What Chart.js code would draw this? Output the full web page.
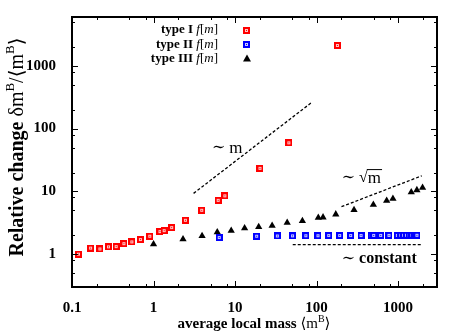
<!DOCTYPE html>
<html>
<head>
<meta charset="utf-8">
<script src="https://cdn.jsdelivr.net/npm/chart.js@4.4.0/dist/chart.umd.min.js"></script>
<style>
  html, body { margin: 0; padding: 0; background: #fff; }
  #wrap { width: 463px; height: 334px; position: relative; }
</style>
</head>
<body>
<div id="wrap"><canvas id="chart"></canvas></div>
<script>
// --- data (log-log) ---
const typeOneX = [0.12, 0.169, 0.22, 0.28, 0.348, 0.433, 0.542, 0.69, 0.90, 1.2, 1.35, 1.67, 2.46, 3.9, 6.2, 7.5, 20.2, 45.7, 180];
const typeOneY = [1.0, 1.25, 1.21, 1.31, 1.32, 1.47, 1.57, 1.71, 1.93, 2.29, 2.37, 2.65, 3.47, 5.0, 7.2, 8.5, 23.3, 59.4, 2110];

const typeTwoX = [6.4, 18.4, 33, 50.7, 73.8, 104, 141, 192, 262, 351, 470, 501, 611, 773, 979, 1080, 1170, 1270, 1370, 1480, 1600, 1700];
const typeTwoY = [1.84, 1.93, 1.95, 1.96, 1.97, 1.97, 1.98, 1.98, 1.98, 1.98, 1.99, 1.99, 1.99, 1.99, 1.99, 2.0, 2.0, 2.0, 2.0, 2.0, 2.0, 2.0];

const typeThreeX = [1.0, 2.3, 3.94, 6.05, 8.97, 13.1, 19.5, 28.5, 43.6, 67, 105, 120, 172, 288, 497, 724, 864, 1450, 1700, 1995];
const typeThreeY = [1.44, 1.73, 1.95, 2.24, 2.37, 2.59, 2.72, 2.85, 3.18, 3.38, 3.82, 3.87, 4.32, 5.06, 6.15, 7.1, 7.65, 9.7, 10.5, 11.5];

// guide lines ~m, ~sqrt(m), ~constant
const linearGuideX = [3.1, 86];
const linearGuideY = [9.3, 258];
const sqrtGuideX = [202, 1950];
const sqrtGuideY = [5.7, 17.7];
const constGuideX = [51, 2000];
const constGuideY = [1.42, 1.42];

const xTickValues = [0.1, 1, 10, 100, 1000];
const yTickValues = [1, 10, 100, 1000];
const minorFactors = [2, 5, 8];

const legendLabels = ['type I', 'type II', 'type III'];

const SERIF = '"Liberation Serif", "DejaVu Serif", serif';

function toPoints(xs, ys) {
    return xs.map((x, i) => ({ x: x, y: ys[i] }));
}

// small square marker with a hollow centre, like the gnuplot one
function makeSquareMarker(edge, inner) {
    const c = document.createElement('canvas');
    c.width = 7; c.height = 7;
    const g = c.getContext('2d');
    g.fillStyle = edge;
    g.fillRect(0, 0, 7, 7);
    g.fillStyle = inner;
    g.fillRect(2, 2, 3, 3);
    g.fillStyle = edge;
    g.fillRect(3, 3, 1, 1);
    return c;
}
const redMarker = makeSquareMarker('#ff0000', '#ffc8c8');
const blueMarker = makeSquareMarker('#0000ff', '#c8c8ff');

function drawRich(ctx, parts, x, y, align) {
    let w = 0;
    parts.forEach(p => { ctx.font = p[1]; w += ctx.measureText(p[0]).width; });
    let cx = align === 'center' ? x - w / 2 : (align === 'right' ? x - w : x);
    ctx.textAlign = 'left';
    parts.forEach(p => {
        ctx.font = p[1];
        ctx.fillText(p[0], cx, y + (p[2] || 0));
        cx += ctx.measureText(p[0]).width;
    });
    return w;
}

const decorations = {
    id: 'decorations',
    afterDraw(chart) {
        const ctx = chart.ctx;
        const a = chart.chartArea;
        const xs = chart.scales.x;
        const ys = chart.scales.y;
        ctx.save();
        ctx.strokeStyle = '#000';
        ctx.fillStyle = '#000';

        // tick marks, inward on all four sides
        ctx.lineWidth = 1;
        const xAll = [], yAll = [];
        xTickValues.forEach(v => { xAll.push([v, 6]); minorFactors.forEach(f => xAll.push([v * f, 3])); });
        [0.1, 1, 10, 100, 1000].forEach(v => { if (v >= 1) yAll.push([v, 6]); minorFactors.forEach(f => yAll.push([v * f, 3])); });
        ctx.beginPath();
        xAll.forEach(([v, len]) => {
            if (v < xs.min || v > xs.max) return;
            const px = Math.round(xs.getPixelForValue(v)) + 0.5;
            ctx.moveTo(px, a.bottom); ctx.lineTo(px, a.bottom - len);
            ctx.moveTo(px, a.top); ctx.lineTo(px, a.top + len);
        });
        yAll.forEach(([v, len]) => {
            if (v < ys.min || v > ys.max) return;
            const py = Math.round(ys.getPixelForValue(v)) + 0.5;
            ctx.moveTo(a.left, py); ctx.lineTo(a.left + len, py);
            ctx.moveTo(a.right, py); ctx.lineTo(a.right - len, py);
        });
        ctx.stroke();

        // frame
        ctx.lineWidth = 2;
        ctx.strokeRect(a.left, a.top, a.right - a.left, a.bottom - a.top);

        // legend
        ctx.textBaseline = 'middle';
        const markers = [redMarker, blueMarker, null];
        legendLabels.forEach((lab, i) => {
            const ly = 30 + i * 14.3;
            drawRich(ctx, [[lab + ' ', 'bold 13px ' + SERIF], ['f', 'italic 13px ' + SERIF], ['[', '13px ' + SERIF], ['m', 'italic 13px ' + SERIF], [']', '13px ' + SERIF]], 218, ly, 'right');
            if (markers[i]) {
                ctx.drawImage(markers[i], 243, Math.round(ly) - 3);
            } else {
                ctx.beginPath();
                ctx.moveTo(247, ly - 4);
                ctx.lineTo(251, ly + 3);
                ctx.lineTo(243, ly + 3);
                ctx.closePath();
                ctx.fill();
            }
        });

        // guide labels
        ctx.textBaseline = 'middle';
        let px = xs.getPixelForValue(5.2), py = ys.getPixelForValue(49);
        drawRich(ctx, [['\u223C ', '16px ' + SERIF], ['m', '17px ' + SERIF]], px, py, 'left');

        px = xs.getPixelForValue(203); py = ys.getPixelForValue(16.3);
        ctx.font = '16px ' + SERIF;
        const tw = ctx.measureText('\u223C ').width;
        ctx.fillText('\u223C ', px, py);
        ctx.fillText('\u221A', px + tw, py);
        const rw = ctx.measureText('\u221A').width;
        const mx = px + tw + rw;
        ctx.font = '17px ' + SERIF;
        ctx.fillText('m', mx, py);
        ctx.lineWidth = 1;
        ctx.beginPath();
        ctx.moveTo(mx - 1, py - 8.5);
        ctx.lineTo(mx + ctx.measureText('m').width + 1, py - 8.5);
        ctx.stroke();

        px = xs.getPixelForValue(203); py = ys.getPixelForValue(0.84);
        drawRich(ctx, [['\u223C ', '16px ' + SERIF], ['constant', 'bold 16px ' + SERIF]], px, py, 'left');

        // axis titles
        ctx.textBaseline = 'alphabetic';
        drawRich(ctx, [
            ['average local mass ', 'bold 15px ' + SERIF],
            ['\u27E8m', '15px ' + SERIF],
            ['B', '10px ' + SERIF, -6],
            ['\u27E9', '15px ' + SERIF]
        ], 254, 328, 'center');

        ctx.translate(23, 147);
        ctx.rotate(-Math.PI / 2);
        drawRich(ctx, [
            ['Relative change ', 'bold 20px ' + SERIF],
            ['\u03B4m', '20px ' + SERIF],
            ['B', '13px ' + SERIF, -9],
            ['/\u27E8m', '20px ' + SERIF],
            ['B', '13px ' + SERIF, -9],
            ['\u27E9', '20px ' + SERIF]
        ], 0, 0, 'center');
        ctx.restore();
    }
};

const dashed = { borderColor: '#000', borderWidth: 1.3, borderDash: [3, 2], pointRadius: 0, showLine: true, fill: false };

new Chart(document.getElementById('chart'), {
    type: 'scatter',
    data: {
        datasets: [
            Object.assign({ data: toPoints(linearGuideX, linearGuideY) }, dashed),
            Object.assign({ data: toPoints(sqrtGuideX, sqrtGuideY) }, dashed),
            Object.assign({ data: toPoints(constGuideX, constGuideY) }, dashed),
            { label: 'type I', data: toPoints(typeOneX, typeOneY), pointStyle: redMarker, pointRadius: 4 },
            { label: 'type II', data: toPoints(typeTwoX, typeTwoY), pointStyle: blueMarker, pointRadius: 4 },
            { label: 'type III', data: toPoints(typeThreeX, typeThreeY), pointStyle: 'triangle', pointRadius: 4.2,
              backgroundColor: '#000', borderColor: '#000', borderWidth: 0 }
        ]
    },
    options: {
        responsive: true,
        maintainAspectRatio: false,
        animation: false,
        layout: { padding: { left: 0, top: 17, right: 26, bottom: 0 } },
        plugins: { legend: { display: false }, tooltip: { enabled: false } },
        scales: {
            x: {
                type: 'logarithmic', min: 0.1, max: 3000,
                grid: { display: false }, border: { display: false },
                afterBuildTicks: s => { s.ticks = xTickValues.map(v => ({ value: v })); },
                afterFit: s => { s.height = 47; },
                ticks: { color: '#000', padding: 4, maxRotation: 0, font: { family: SERIF, size: 15, weight: 'bold' },
                         callback: v => String(v) }
            },
            y: {
                type: 'logarithmic', min: 0.3, max: 6000,
                grid: { display: false }, border: { display: false },
                afterBuildTicks: s => { s.ticks = yTickValues.map(v => ({ value: v })); },
                afterFit: s => { s.width = 72; },
                ticks: { color: '#000', padding: 8, font: { family: SERIF, size: 15, weight: 'bold' },
                         callback: v => String(v) }
            }
        }
    },
    plugins: [decorations]
});
</script>
</body>
</html>
